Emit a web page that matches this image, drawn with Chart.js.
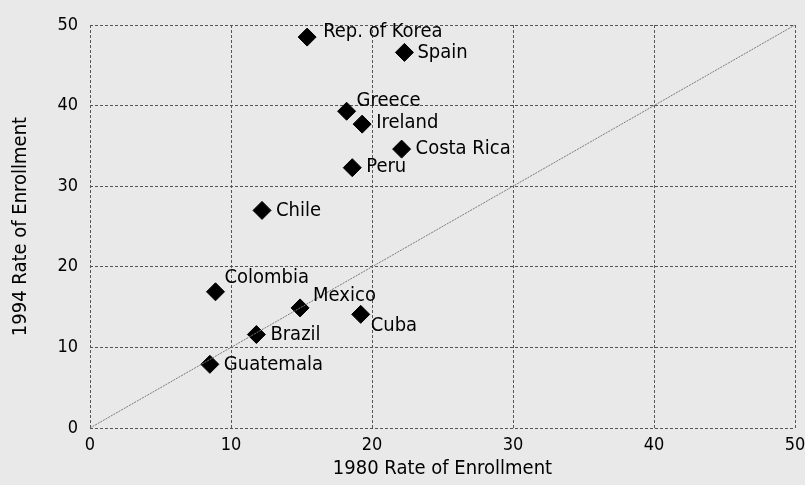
<!DOCTYPE html>
<html>
<head>
<meta charset="utf-8">
<script src="https://cdn.jsdelivr.net/npm/chart.js@4"></script>
<style>
  html, body { margin: 0; padding: 0; background: #e9e9e9; }
  #wrap { width: 805px; height: 485px; position: relative; }
</style>
</head>
<body>
<div id="wrap"><canvas id="c"></canvas></div>
<script>
// ---- data ----
const countries = ['Rep. of Korea', 'Spain', 'Greece', 'Ireland', 'Costa Rica', 'Peru', 'Chile', 'Colombia', 'Mexico', 'Cuba', 'Brazil', 'Guatemala'];
const rate1980 = [15.4, 22.3, 18.2, 19.3, 22.1, 18.6, 12.2, 8.9, 14.9, 19.2, 11.8, 8.5];
const rate1994 = [48.5, 46.6, 39.3, 37.7, 34.6, 32.3, 27.0, 16.9, 14.9, 14.1, 11.6, 7.9];
const axisTicks = [0, 10, 20, 30, 40, 50];
const equalityLine = [0, 50];
const xTitle = '1980 Rate of Enrollment';
const yTitle = '1994 Rate of Enrollment';

// ---- label placement (style, not data) ----
const labelOffsets = [[16, -5], [13, 0], [10, -10], [14, -1], [14, 0], [14, -1], [14, 0], [9, -13.5], [13, -12.5], [10, 11], [14, 0], [14, 0]];

const FONT = "'DejaVu Sans Condensed', 'DejaVu Sans', sans-serif";

const points = rate1980.map((x, i) => ({ x: x, y: rate1994[i] }));
const diag = equalityLine.map(v => ({ x: v, y: v }));

const bgPlugin = {
  id: 'bg',
  beforeDraw(chart) {
    const ctx = chart.ctx;
    ctx.save();
    ctx.fillStyle = '#e9e9e9';
    ctx.fillRect(0, 0, chart.width, chart.height);
    ctx.restore();
  }
};

const labelPlugin = {
  id: 'pointLabels',
  afterDatasetsDraw(chart) {
    const meta = chart.getDatasetMeta(1);
    const ctx = chart.ctx;
    ctx.save();
    ctx.font = '20px ' + FONT;
    ctx.fillStyle = '#000';
    ctx.textAlign = 'left';
    ctx.textBaseline = 'middle';
    meta.data.forEach((el, i) => {
      const off = labelOffsets[i];
      ctx.fillText(countries[i], el.x + off[0], el.y + off[1]);
    });
    ctx.restore();
  }
};

new Chart(document.getElementById('c'), {
  data: {
    datasets: [
      {
        type: 'line',
        data: diag,
        borderColor: '#7a7a7a',
        borderWidth: 1,
        borderDash: [2, 1],
        pointRadius: 0,
        fill: false
      },
      {
        type: 'scatter',
        data: points,
        pointStyle: 'rectRot',
        pointRadius: 9,
        pointHoverRadius: 9,
        backgroundColor: '#000',
        borderColor: '#000',
        borderWidth: 1
      }
    ]
  },
  options: {
    responsive: true,
    maintainAspectRatio: false,
    animation: false,
    events: [],
    layout: { padding: { left: 0, right: 0, top: 25, bottom: 0 } },
    plugins: {
      legend: { display: false },
      tooltip: { enabled: false }
    },
    scales: {
      x: {
        type: 'linear',
        min: axisTicks[0],
        max: axisTicks[axisTicks.length - 1],
        afterBuildTicks: s => { s.ticks = axisTicks.map(v => ({ value: v })); },
        afterFit: s => { s.height = 57; s.paddingRight = 10; s.paddingLeft = 0; },
        grid: { color: '#555', lineWidth: 1, drawTicks: false },
        border: { display: false, dash: [3, 2] },
        ticks: { color: '#000', font: { family: FONT, size: 18 }, padding: 7, maxRotation: 0 },
        title: { display: true, text: xTitle, color: '#000', font: { family: FONT, size: 20 }, padding: { top: 0, bottom: 4 } }
      },
      y: {
        type: 'linear',
        min: axisTicks[0],
        max: axisTicks[axisTicks.length - 1],
        afterBuildTicks: s => { s.ticks = axisTicks.map(v => ({ value: v })); },
        afterFit: s => { s.width = 90; },
        grid: { color: '#555', lineWidth: 1, drawTicks: false },
        border: { display: false, dash: [3, 2] },
        ticks: { color: '#000', font: { family: FONT, size: 18 }, padding: 12 },
        title: { display: true, text: yTitle, color: '#000', font: { family: FONT, size: 20 }, padding: { top: 9, bottom: 0 } }
      }
    }
  },
  plugins: [bgPlugin, labelPlugin]
});
</script>
</body>
</html>
